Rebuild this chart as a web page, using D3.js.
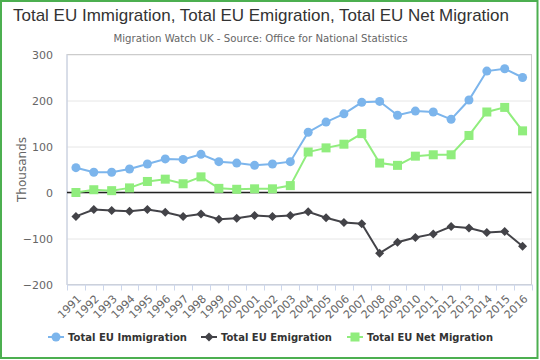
<!DOCTYPE html>
<html><head><meta charset="utf-8">
<script src="https://cdn.jsdelivr.net/npm/d3@7"></script>
<style>body{margin:0;background:#fff}svg{display:block;font-family:"DejaVu Sans",sans-serif}</style>
</head><body><svg id="c" width="540" height="360"></svg>
<script>
const years = ["1991","1992","1993","1994","1995","1996","1997","1998","1999","2000","2001","2002","2003","2004","2005","2006","2007","2008","2009","2010","2011","2012","2013","2014","2015","2016"];
const immigration = [54,44,44,51,62,73,72,83,67,64,59,62,67,131,153,171,196,198,168,177,175,159,201,264,269,250];
const emigration = [-52,-37,-39,-41,-37,-43,-52,-47,-58,-56,-50,-52,-50,-42,-55,-65,-68,-132,-108,-98,-90,-74,-77,-87,-85,-117];
const netMigration = [0,6,4,10,24,29,19,34,9,7,8,8,15,88,97,105,128,64,59,79,82,82,124,175,185,134];
const yTicks = [-200,-100,0,100,200,300];
const seriesNames = ["Total EU Immigration","Total EU Emigration","Total EU Net Migration"];

const svg = d3.select("#c");
const L=67, R=531.5, T=54.5, B=284.5;
const x = d3.scaleBand().domain(years).range([L,R]);
const y = d3.scaleLinear().domain([-200,300]).range([B,T]);

// outer border
svg.append("rect").attr("x",1).attr("y",1).attr("width",536.5).attr("height",357)
  .attr("fill","none").attr("stroke","#4caf50").attr("stroke-width",2);

// title
svg.append("text").attr("x",261).attr("y",21).attr("text-anchor","middle")
  .attr("font-family","Liberation Sans, Arial, sans-serif")
  .attr("font-size",17).attr("fill","#333").attr("textLength",496).attr("lengthAdjust","spacingAndGlyphs")
  .text("Total EU Immigration, Total EU Emigration, Total EU Net Migration");
svg.append("text").attr("x",260.5).attr("y",42).attr("text-anchor","middle")
  .attr("font-size",10.5).attr("fill","#666").attr("textLength",294).attr("lengthAdjust","spacingAndGlyphs")
  .text("Migration Watch UK - Source: Office for National Statistics");

// grid
const gy = svg.append("g").attr("transform",`translate(${L},0)`)
  .call(d3.axisLeft(y).tickValues(yTicks).tickSize(-(R-L)).tickPadding(14).tickFormat(d=>d<0?"\u2212"+(-d):d));
gy.select(".domain").remove();
gy.selectAll(".tick line").attr("stroke","#e6e6e6");
gy.selectAll(".tick text").attr("font-size",11).attr("fill","#666").attr("font-family","DejaVu Sans, sans-serif");

// plot border
svg.append("rect").attr("x",L).attr("y",T).attr("width",R-L).attr("height",B-T)
  .attr("fill","none").attr("stroke","#ccc").attr("stroke-width",1);
// left axis line
svg.append("line").attr("x1",L).attr("x2",L).attr("y1",T).attr("y2",B).attr("stroke","#ccd6eb");

// x axis
const gx = svg.append("g").attr("transform",`translate(0,${B})`)
  .call(d3.axisBottom(x).tickSize(0).tickFormat(""));
gx.select(".domain").attr("stroke","#ccd6eb");
const bounds = years.map(d=>x(d)).concat([R]);
gx.selectAll(".tk").data(bounds).enter().append("line")
  .attr("x1",d=>Math.round(d)+0.5).attr("x2",d=>Math.round(d)+0.5).attr("y1",0).attr("y2",6).attr("stroke","#ccd6eb");
svg.append("g").selectAll("text").data(years).enter().append("text")
  .attr("transform",d=>`translate(${x(d)+x.bandwidth()/2+6},${B+15}) rotate(-45)`)
  .attr("text-anchor","end").attr("font-size",11).attr("fill","#666").text(d=>d);

// zero line
svg.append("line").attr("x1",L).attr("x2",R).attr("y1",y(0)).attr("y2",y(0)).attr("stroke","#222").attr("stroke-width",1.5);

// y title
svg.append("text").attr("transform",`translate(26,${(T+B)/2}) rotate(-90)`).attr("text-anchor","middle")
  .attr("font-size",12).attr("fill","#666").text("Thousands");

const cx = i => x(years[i]) + x.bandwidth()/2;
const line = d3.line().x((d,i)=>cx(i)).y(d=>y(d));
const series = [
  {name:seriesNames[0], data:immigration, color:"#7cb5ec", sym:"circle"},
  {name:seriesNames[1], data:emigration, color:"#434348", sym:"diamond"},
  {name:seriesNames[2], data:netMigration, color:"#90ed7d", sym:"square"}
];
function marker(g, sym, color, px, py){
  if(sym==="circle") g.append("circle").attr("cx",px).attr("cy",py).attr("r",4.5).attr("fill",color);
  else if(sym==="diamond") g.append("path").attr("d",`M${px},${py-4.5}L${px+4.5},${py}L${px},${py+4.5}L${px-4.5},${py}Z`).attr("fill",color);
  else g.append("rect").attr("x",px-4.5).attr("y",py-4.5).attr("width",9).attr("height",9).attr("fill",color);
}
series.forEach(s=>{
  const g = svg.append("g");
  g.append("path").attr("d",line(s.data)).attr("fill","none").attr("stroke",s.color).attr("stroke-width",2);
  s.data.forEach((v,i)=>marker(g,s.sym,s.color,cx(i),y(v)));
});

// legend
const legX = [56,209,355];
const legW = [119,111,126];
series.forEach((s,i)=>{
  const g = svg.append("g");
  const ly = 337;
  g.append("line").attr("x1",legX[i]-8).attr("x2",legX[i]+8).attr("y1",ly).attr("y2",ly).attr("stroke",s.color).attr("stroke-width",2);
  marker(g,s.sym,s.color,legX[i],ly);
  g.append("text").attr("x",legX[i]+12).attr("y",ly+4).attr("font-size",11).attr("font-weight","bold").attr("fill","#333")
    .attr("textLength",legW[i]).attr("lengthAdjust","spacingAndGlyphs").text(s.name);
});
</script></body></html>
